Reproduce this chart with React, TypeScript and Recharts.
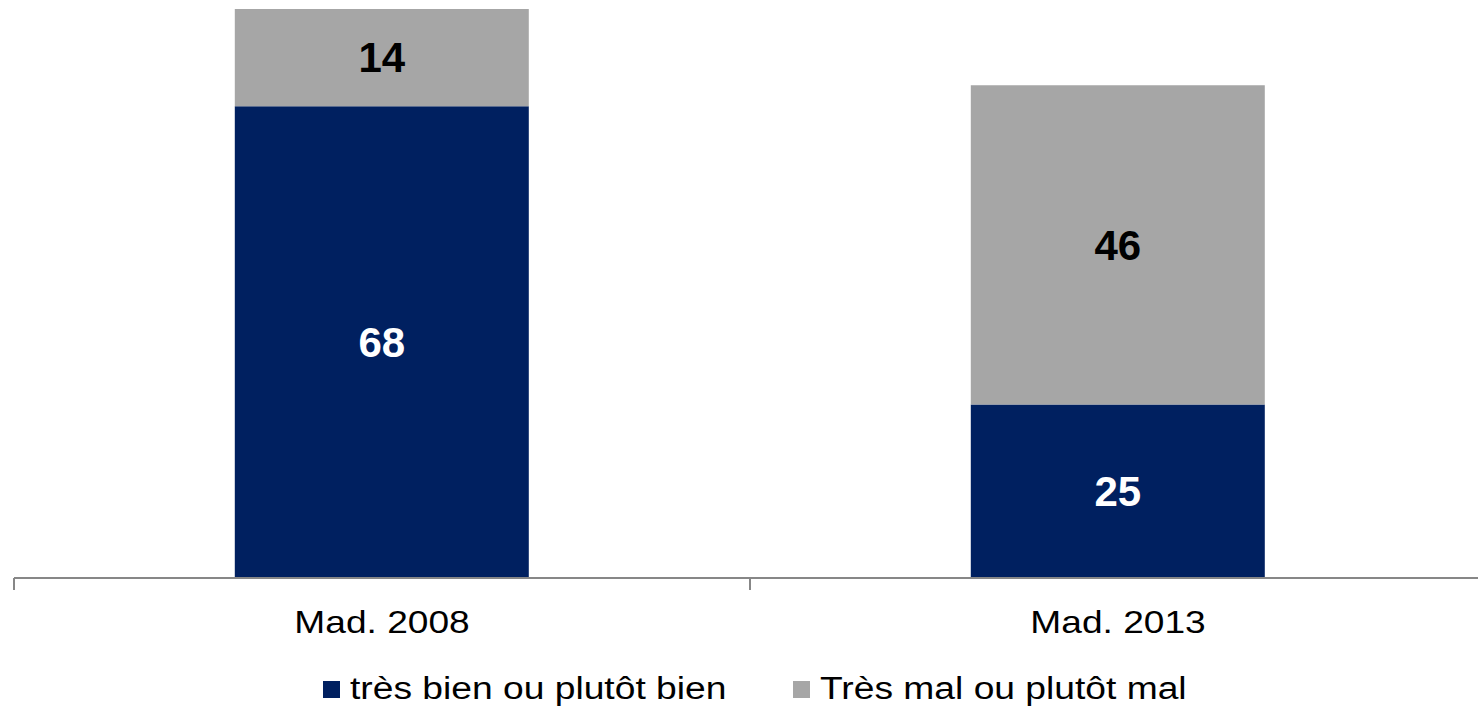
import { BarChart, Bar, XAxis, YAxis, LabelList, Legend } from 'recharts'

const categories = ['Mad. 2008', 'Mad. 2013']
const bien = [68, 25]
const mal = [14, 46]

const seriesNames = {
  bien: 'très bien ou plutôt bien',
  mal: 'Très mal ou plutôt mal',
}
const seriesColors = {
  bien: '#002060',
  mal: '#A6A6A6',
}

const data = categories.map((name, i) => ({ name, bien: bien[i], mal: mal[i] }))

const FONT = '"Liberation Sans", Arial, sans-serif'
const AXIS_GRAY = '#878787'
const TICK_MARGIN = 32

// category label, slightly widened like the original, plus a tick mark on the band edge
const CategoryTick = ({ x, y, payload }: any) => {
  const half = payload && payload.offset ? payload.offset : 0
  const axisY = y - TICK_MARGIN
  return (
    <g>
      {half > 0 && (
        <line x1={x - half} x2={x - half} y1={axisY} y2={axisY + 12} stroke={AXIS_GRAY} strokeWidth={2} />
      )}
      <g transform={`translate(${x},${y}) scale(1.16,1)`}>
        <text textAnchor="middle" dy="0.71em" fontSize={32} fontFamily={FONT} fill="#000">
          {payload.value}
        </text>
      </g>
    </g>
  )
}

const legendOrder: ('bien' | 'mal')[] = ['bien', 'mal']

const LegendContent = () => (
  <div style={{ display: 'flex', alignItems: 'center', paddingLeft: 323, fontFamily: FONT }}>
    {legendOrder.map((k) => (
      <div key={k} style={{ display: 'flex', alignItems: 'center', width: 470 }}>
        <span style={{ display: 'inline-block', width: 17, height: 17, background: seriesColors[k], marginRight: 10 }} />
        <span
          style={{
            display: 'inline-block',
            fontSize: 31,
            color: '#000',
            lineHeight: '34px',
            whiteSpace: 'nowrap',
            transform: 'scaleX(1.2)',
            transformOrigin: 'left center',
          }}
        >
          {seriesNames[k]}
        </span>
      </div>
    ))}
  </div>
)

export default function App() {
  return (
    <div style={{ position: 'absolute', left: 0, top: 0, width: 1478, height: 709, overflow: 'hidden', background: '#fff' }}>
      <BarChart
        width={1494}
        height={709}
        data={data}
        margin={{ top: 9, right: 8, left: 14, bottom: 71 }}
        barCategoryGap="30%"
      >
        <XAxis
          dataKey="name"
          height={60}
          axisLine={{ stroke: AXIS_GRAY, strokeWidth: 2 }}
          tickLine={false}
          tickSize={0}
          tickMargin={TICK_MARGIN}
          interval={0}
          tick={<CategoryTick />}
        />
        <YAxis hide domain={[0, 82]} />
        <Legend
          verticalAlign="middle"
          wrapperStyle={{ top: 672, left: 0, width: 1478 }}
          content={<LegendContent />}
        />
        <Bar dataKey="bien" name={seriesNames.bien} stackId="a" fill={seriesColors.bien} isAnimationActive={false}>
          <LabelList
            dataKey="bien"
            position="center"
            fill="#fff"
            style={{ fontSize: 42, fontWeight: 'bold', fontFamily: FONT }}
          />
        </Bar>
        <Bar dataKey="mal" name={seriesNames.mal} stackId="a" fill={seriesColors.mal} isAnimationActive={false}>
          <LabelList
            dataKey="mal"
            position="center"
            fill="#000"
            style={{ fontSize: 42, fontWeight: 'bold', fontFamily: FONT }}
          />
        </Bar>
      </BarChart>
    </div>
  )
}
